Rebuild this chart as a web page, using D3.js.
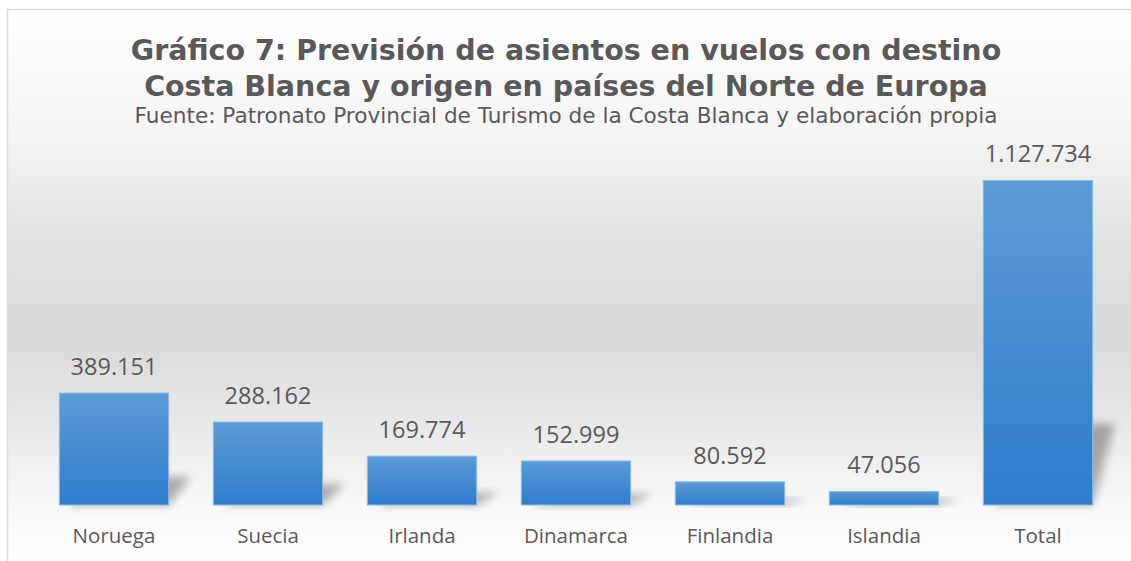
<!DOCTYPE html>
<html><head><meta charset="utf-8">
<script src="https://cdn.jsdelivr.net/npm/d3@7"></script>
<style>html,body{margin:0;padding:0;background:#fff;}svg{display:block;}</style>
</head><body>
<svg id="chart" width="1131" height="561"></svg>
<script>
const categories = ["Noruega","Suecia","Irlanda","Dinamarca","Finlandia","Islandia","Total"];
const seats = [389151, 288162, 169774, 152999, 80592, 47056, 1127734];
const valueLabels = ["389.151","288.162","169.774","152.999","80.592","47.056","1.127.734"];
const titleLines = ["Gráfico 7: Previsión de asientos en vuelos con destino","Costa Blanca y origen en países del Norte de Europa"];
const subtitle = "Fuente: Patronato Provincial de Turismo de la Costa Blanca y elaboración propia";

const W = 1131, H = 561;
const svg = d3.select("#chart");
const defs = svg.append("defs");

const bg = defs.append("linearGradient").attr("id","bg").attr("gradientUnits","userSpaceOnUse")
  .attr("x1",0).attr("y1",9).attr("x2",0).attr("y2",561);
[[0,"#ffffff"],[0.2,"#f6f6f6"],[0.45,"#e0e0e0"],[0.6,"#dadada"],[0.78,"#ebebeb"],[0.9,"#f8f8f8"],[1,"#ffffff"]]
  .forEach(([o,c])=>bg.append("stop").attr("offset",o).attr("stop-color",c));

const bar = defs.append("linearGradient").attr("id","bar").attr("x1",0).attr("y1",0).attr("x2",0).attr("y2",1);
bar.append("stop").attr("offset",0).attr("stop-color","#5c9bd6");
bar.append("stop").attr("offset",1).attr("stop-color","#2f7dcc");

const blur = defs.append("filter").attr("id","blur").attr("x","-50%").attr("y","-50%").attr("width","200%").attr("height","200%");
blur.append("feGaussianBlur").attr("stdDeviation",5);

// chart area
svg.append("rect").attr("x",7.5).attr("y",9.5).attr("width",W+10).attr("height",H+10)
  .attr("fill","url(#bg)").attr("stroke","#d9d9d9").attr("stroke-width",1.5);

const x = d3.scaleBand().domain(categories).range([37,1115]).paddingInner(0.29).paddingOuter(0.145);
const y = d3.scaleLinear().domain([0,1200000]).range([505,159.7]);

const g = svg.append("g");
// shadows
g.selectAll("path.sh").data(categories).join("path").attr("class","sh")
  .attr("d",(c,i)=>{
    const x0 = x(c), x1 = x(c)+x.bandwidth(), b = y(0), h = y(0)-y(seats[i]);
    const sh = Math.max(h*0.25, 6);
    return `M${x0+10},${b} L${x1},${b} L${x1+22},${b-sh} L${x0+32},${b-sh} Z`;
  })
  .attr("fill","#000").attr("opacity",0.3).attr("filter","url(#blur)");

g.selectAll("rect.bar").data(categories).join("rect").attr("class","bar")
  .attr("x",c=>x(c)).attr("width",x.bandwidth())
  .attr("y",(c,i)=>y(seats[i])).attr("height",(c,i)=>y(0)-y(seats[i]))
  .attr("fill","url(#bar)").attr("stroke","#8cbbe8").attr("stroke-width",1);

g.selectAll("text.val").data(categories).join("text").attr("class","val")
  .attr("x",c=>x(c)+x.bandwidth()/2).attr("y",(c,i)=>y(seats[i])-18)
  .attr("text-anchor","middle").attr("font-family","'Open Sans', sans-serif").attr("font-size",23.5)
  .attr("fill","#595959").text((c,i)=>valueLabels[i]);

g.selectAll("text.cat").data(categories).join("text").attr("class","cat")
  .attr("x",c=>x(c)+x.bandwidth()/2).attr("y",543)
  .attr("text-anchor","middle").attr("font-family","'Open Sans', sans-serif").attr("font-size",20.5)
  .attr("fill","#595959").text(c=>c);

// titles
svg.selectAll("text.title").data(titleLines).join("text").attr("class","title")
  .attr("x",566).attr("y",(d,i)=>59.5+i*36.5).attr("text-anchor","middle")
  .attr("font-family","'DejaVu Sans', sans-serif").attr("font-weight","bold").attr("font-size",28.5)
  .attr("fill","#595959").text(d=>d);
svg.append("text").attr("x",566).attr("y",122.5).attr("text-anchor","middle")
  .attr("font-family","'DejaVu Sans', sans-serif").attr("font-size",21.6)
  .attr("fill","#595959").text(subtitle);
</script>
</body></html>
